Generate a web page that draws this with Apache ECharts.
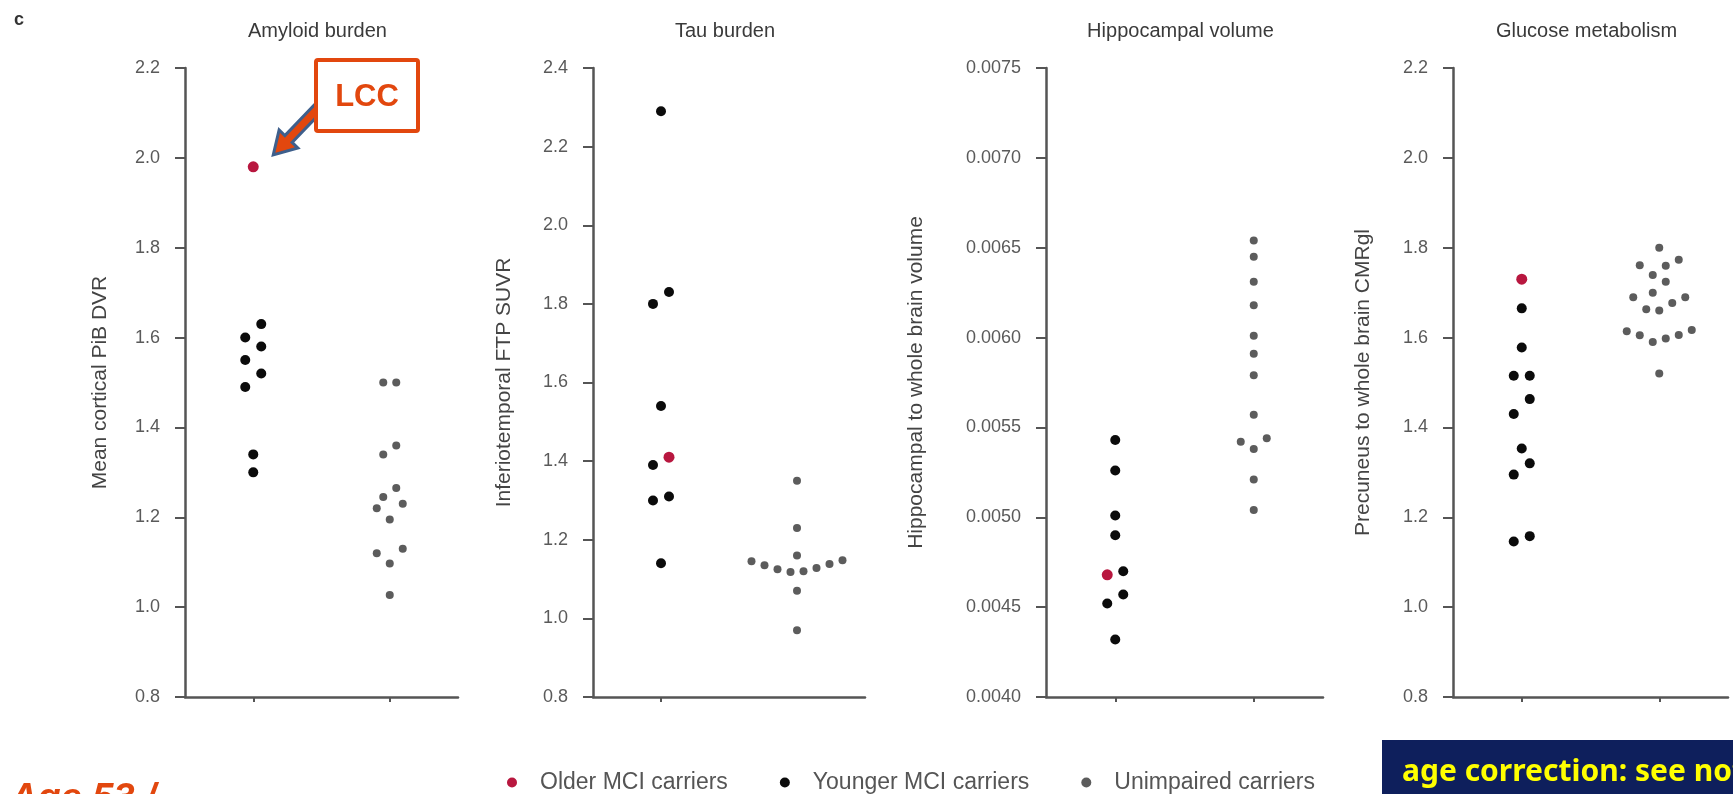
<!DOCTYPE html>
<html>
<head>
<meta charset="utf-8">
<script src="https://cdn.jsdelivr.net/npm/echarts@6/dist/echarts.min.js"></script>
<style>
html,body{margin:0;padding:0;background:#ffffff;}
#c{width:1733px;height:794px;}
</style>
</head>
<body>
<div id="c"></div>
<script>
// ---------------- DATA ----------------
const groupNames = ['MCI carriers', 'Unimpaired carriers'];
const seriesNames = ['Older MCI carriers', 'Younger MCI carriers', 'Unimpaired carriers'];
const panelTitles = ['Amyloid burden', 'Tau burden', 'Hippocampal volume', 'Glucose metabolism'];
const axisNames = ['Mean cortical PiB DVR', 'Inferiotemporal FTP SUVR', 'Hippocampal to whole brain volume', 'Precuneus to whole brain CMRgl'];
const axisMin = [0.8, 0.8, 0.0040, 0.8];
const axisMax = [2.2, 2.4, 0.0075, 2.2];
const axisStep = [0.2, 0.2, 0.0005, 0.2];
const tickDecimals = [1, 1, 4, 1];

const amyloidOlder = [1.98];
const amyloidYounger = [1.63, 1.60, 1.58, 1.55, 1.52, 1.49, 1.34, 1.30];
const amyloidUnimpaired = [1.50, 1.50, 1.36, 1.34, 1.265, 1.245, 1.23, 1.22, 1.195, 1.13, 1.12, 1.097, 1.027];

const tauOlder = [1.41];
const tauYounger = [2.29, 1.83, 1.80, 1.54, 1.39, 1.31, 1.30, 1.14];
const tauUnimpaired = [1.35, 1.23, 1.16, 1.148, 1.145, 1.138, 1.135, 1.128, 1.125, 1.12, 1.118, 1.07, 0.97];

const hippoOlder = [0.00468];
const hippoYounger = [0.00543, 0.00526, 0.00501, 0.00490, 0.00470, 0.00457, 0.00452, 0.00432];
const hippoUnimpaired = [0.00654, 0.00645, 0.00631, 0.00618, 0.00601, 0.00591, 0.00579, 0.00557, 0.00544, 0.00542, 0.00538, 0.00521, 0.00504];

const glucoseOlder = [1.73];
const glucoseYounger = [1.665, 1.578, 1.515, 1.515, 1.463, 1.43, 1.353, 1.32, 1.295, 1.158, 1.146];
const glucoseUnimpaired = [1.80, 1.773, 1.761, 1.76, 1.739, 1.724, 1.70, 1.69, 1.69, 1.677, 1.663, 1.66, 1.617, 1.614, 1.606, 1.605, 1.598, 1.59, 1.52];

const olderData = [amyloidOlder, tauOlder, hippoOlder, glucoseOlder];
const youngerData = [amyloidYounger, tauYounger, hippoYounger, glucoseYounger];
const unimpairedData = [amyloidUnimpaired, tauUnimpaired, hippoUnimpaired, glucoseUnimpaired];

// ---------------- LAYOUT / STYLE ----------------
const FONT = '"Liberation Sans", Arial, sans-serif';
const plotLeft = [185, 593, 1046, 1453];
const plotRight = [458, 865, 1323, 1728];
const plotTop = 68, plotBottom = 697;
const nameGaps = [74, 78, 119, 79];
const AXIS = '#555555';
const RED = '#b8173f', BLACK = '#0b0b0b', GREY = '#5c5c5c';
const ANNOT = '#e2470e', ARROW_EDGE = '#3e5f8c', NAVY = '#0e1f5c', YELLOW = '#ffff00';

const chart = echarts.init(document.getElementById('c'));

const grids = [], xAxes = [], yAxes = [], titles = [], series = [];
for (let i = 0; i < 4; i++) {
  grids.push({left: plotLeft[i], width: plotRight[i] - plotLeft[i], top: plotTop, height: plotBottom - plotTop,
    containLabel: false, outerBoundsMode: 'none'});
  xAxes.push({gridIndex: i, type: 'category', data: groupNames, boundaryGap: true,
    axisLine: {show: true, onZero: false, lineStyle: {color: AXIS, width: 2.5}},
    axisTick: {show: true, alignWithLabel: true, length: 5, lineStyle: {color: AXIS, width: 2}},
    axisLabel: {show: false}, splitLine: {show: false}});
  const dec = tickDecimals[i];
  yAxes.push({gridIndex: i, type: 'value', min: axisMin[i], max: axisMax[i], interval: axisStep[i],
    name: axisNames[i], nameLocation: 'middle', nameGap: nameGaps[i],
    nameTextStyle: {fontSize: 21, color: '#444', fontFamily: FONT},
    axisLine: {show: true, onZero: false, lineStyle: {color: AXIS, width: 2.5}},
    axisTick: {show: true, length: 10, lineStyle: {color: AXIS, width: 2}},
    axisLabel: {margin: 25, fontSize: 18, color: '#5a5a5a', fontFamily: FONT, formatter: v => v.toFixed(dec)},
    splitLine: {show: false}});
  titles.push({text: panelTitles[i], left: (plotLeft[i] + plotRight[i]) / 2 - 4, top: 21, textAlign: 'center', padding: 0,
    textStyle: {fontSize: 20, fontWeight: 'normal', color: '#3a3a3a', fontFamily: FONT}});
  series.push({name: seriesNames[0], type: 'scatter', xAxisIndex: i, yAxisIndex: i, symbol: 'circle', symbolSize: 11,
    itemStyle: {color: RED, opacity: 1}, z: 4, data: olderData[i].map(v => [0, v])});
  series.push({name: seriesNames[1], type: 'scatter', xAxisIndex: i, yAxisIndex: i, symbol: 'circle', symbolSize: 10,
    itemStyle: {color: BLACK, opacity: 1}, z: 3, data: youngerData[i].map(v => [0, v])});
  series.push({name: seriesNames[2], type: 'scatter', xAxisIndex: i, yAxisIndex: i, symbol: 'circle', symbolSize: 8,
    itemStyle: {color: GREY, opacity: 1}, z: 3, data: unimpairedData[i].map(v => [1, v])});
}

chart.setOption({
  animation: false,
  backgroundColor: '#ffffff',
  title: titles,
  grid: grids,
  xAxis: xAxes,
  yAxis: yAxes,
  legend: {left: 507, top: 771, padding: 0, itemWidth: 10, itemHeight: 10, itemGap: 52, icon: 'circle',
    selectedMode: false, data: seriesNames,
    formatter: name => '{g|}' + name,
    textStyle: {fontSize: 23, color: '#555', fontFamily: FONT, rich: {g: {width: 18}}}},
  tooltip: {show: false},
  series: series
});

// Prism-like dot layout: rows of close values spread horizontally
function swarm(values, toPx, H, W) {
  const items = values.map((v, k) => ({k: k, py: toPx(v)}));
  items.sort((a, b) => b.py - a.py);
  const off = new Array(values.length).fill(0);
  let i = 0;
  while (i < items.length) {
    let j = i + 1;
    while (j < items.length && Math.abs(items[j].py - items[i].py) < H) j++;
    const n = j - i;
    const slots = [];
    if (n % 2 === 1) {
      slots.push(0);
      for (let m = 1; slots.length < n; m++) { slots.push(-m * W); if (slots.length < n) slots.push(m * W); }
    } else {
      for (let m = 0; slots.length < n; m++) { slots.push(-(m + 0.5) * W); slots.push((m + 0.5) * W); }
    }
    for (let q = 0; q < n; q++) off[items[i + q].k] = slots[q];
    i = j;
  }
  return off;
}

const newSeries = [];
let redPx = null;
for (let i = 0; i < 4; i++) {
  const toPx = v => chart.convertToPixel({yAxisIndex: i}, v);
  const mci = olderData[i].concat(youngerData[i]);
  const offM = swarm(mci, toPx, 16, 16);
  const offU = swarm(unimpairedData[i], toPx, 16, 13);
  const nO = olderData[i].length;
  newSeries.push({data: olderData[i].map((v, k) => ({value: [0, v], symbolOffset: [offM[k], 0]}))});
  newSeries.push({data: youngerData[i].map((v, k) => ({value: [0, v], symbolOffset: [offM[nO + k], 0]}))});
  newSeries.push({data: unimpairedData[i].map((v, k) => ({value: [1, v], symbolOffset: [offU[k], 0]}))});
  if (i === 0) {
    const p = chart.convertToPixel({gridIndex: 0}, [0, olderData[0][0]]);
    redPx = [p[0] + offM[0], p[1]];
  }
}

// LCC arrow pointing at the red (older MCI) amyloid point
const tip = [redPx[0] + 20, redPx[1] - 12];
const tail = [324, 102];
const dx = tip[0] - tail[0], dy = tip[1] - tail[1];
const len = Math.sqrt(dx * dx + dy * dy);
const ux = dx / len, uy = dy / len, nx = -uy, ny = ux;
const headL = 22, headW = 13, shaftW = 5;
const neck = [tip[0] - ux * headL, tip[1] - uy * headL];
const arrowPts = [
  [tail[0] + nx * shaftW, tail[1] + ny * shaftW],
  [neck[0] + nx * shaftW, neck[1] + ny * shaftW],
  [neck[0] + nx * headW, neck[1] + ny * headW],
  tip,
  [neck[0] - nx * headW, neck[1] - ny * headW],
  [neck[0] - nx * shaftW, neck[1] - ny * shaftW],
  [tail[0] - nx * shaftW, tail[1] - ny * shaftW]
];

chart.setOption({
  series: newSeries,
  graphic: [
    {type: 'text', z: 20, style: {x: 14, y: 20, text: 'c', font: 'bold 18px "Liberation Sans"', fill: '#333', verticalAlign: 'middle'}},
    {type: 'polygon', z: 20, shape: {points: arrowPts}, style: {fill: ANNOT, stroke: ARROW_EDGE, lineWidth: 3, lineJoin: 'miter'}},
    {type: 'rect', z: 21, shape: {x: 316, y: 60, width: 102, height: 71, r: 2}, style: {fill: '#ffffff', stroke: ANNOT, lineWidth: 4}},
    {type: 'text', z: 22, style: {x: 367, y: 97, text: 'LCC', font: 'bold 31px "Liberation Sans"', fill: ANNOT, align: 'center', verticalAlign: 'middle'}},
    {type: 'text', z: 20, style: {x: 10, y: 781, text: 'Age 53 /', font: 'italic bold 38px "Liberation Sans"', fill: ANNOT, align: 'left', verticalAlign: 'top'}},
    {type: 'rect', z: 20, shape: {x: 1382, y: 740, width: 360, height: 60}, style: {fill: NAVY}},
    {type: 'text', z: 21, style: {x: 1402, y: 772, text: 'age correction: see notes', font: 'bold 30px "Noto Sans"', fill: YELLOW, align: 'left', verticalAlign: 'middle'}}
  ]
});
</script>
</body>
</html>
